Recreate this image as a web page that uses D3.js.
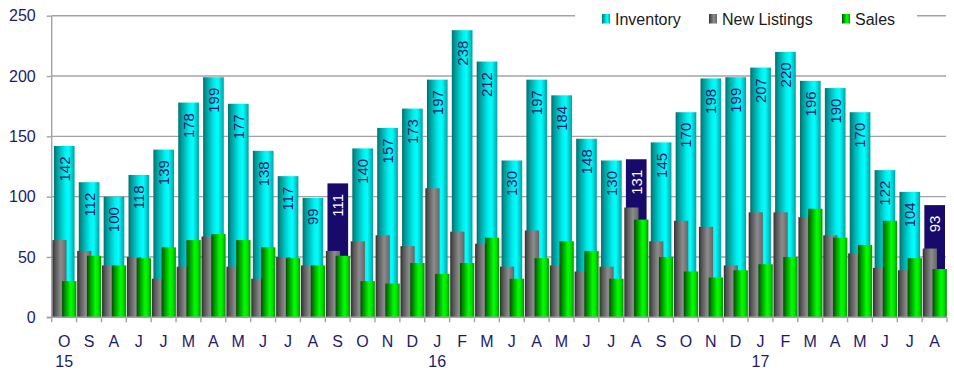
<!DOCTYPE html>
<html><head><meta charset="utf-8">
<script src="https://cdn.jsdelivr.net/npm/d3@7"></script>
<style>body{margin:0;background:#fff}svg{display:block}</style>
</head><body>
<svg id="c" width="954" height="370"></svg>
<script>
const months = ["O","S","A","J","J","M","A","M","J","J","A","S","O","N","D","J","F","M","J","A","M","J","J","A","S","O","N","D","J","F","M","A","M","J","J","A"];
const years = {0:"15",15:"16",28:"17"};
const inventory = [142,112,100,118,139,178,199,177,138,117,99,111,140,157,173,197,238,212,130,197,184,148,130,131,145,170,198,199,207,220,196,190,170,122,104,93];
const newListings = [64,55,43,50,32,42,67,42,32,50,43,55,63,68,59,107,71,61,42,72,43,38,42,91,63,80,75,43,87,87,83,68,53,41,39,57];
const sales = [30,51,43,49,58,64,69,64,58,49,43,51,30,28,45,36,45,66,32,49,63,55,32,81,50,38,33,39,44,50,90,66,60,80,49,40];
const highlighted = [11,23,35];
const yTicks = [0,50,100,150,200,250];
const seriesNames = ["Inventory","New Listings","Sales"];

const svg = d3.select("#c");
const m = {l:51.7, r:947, t:15.7, b:317.3};
const x = d3.scaleBand().domain(d3.range(months.length)).range([m.l, m.r]).padding(0);
const y = d3.scaleLinear().domain([0,250]).range([m.b, m.t]);
const bw = x.bandwidth();

const defs = svg.append("defs");
function grad(id, stops){
  const g = defs.append("linearGradient").attr("id", id).attr("x1","0").attr("x2","1").attr("y1","0").attr("y2","0");
  stops.forEach(s => g.append("stop").attr("offset", s[0]).attr("stop-color", s[1]));
}
grad("gCyan", [[0,"#007070"],[0.15,"#009a9a"],[0.55,"#00f0f0"],[0.72,"#00ffff"],[1,"#00a0a0"]]);
grad("gGrey", [[0,"#303030"],[0.2,"#555"],[0.6,"#8c8c8c"],[1,"#666"]]);
grad("gGreen", [[0,"#004f00"],[0.2,"#009000"],[0.6,"#00ff00"],[0.8,"#00e000"],[1,"#009000"]]);

const gridC = "#a3a3a3";
const txtC = "#1e1a6b";
const font = "'Liberation Sans', Arial, sans-serif";

// gridlines
svg.append("g").selectAll("line").data(yTicks.filter(d=>d>0)).join("line")
  .attr("x1", m.l).attr("x2", 946).attr("y1", d=>y(d)).attr("y2", d=>y(d))
  .attr("stroke", gridC).attr("stroke-width", 1.4);

// inventory bars
svg.append("g").selectAll("rect").data(inventory).join("rect")
  .attr("x", (d,i)=>x(i)+2.2).attr("width", bw-4.2)
  .attr("y", d=>y(d)).attr("height", d=>y(0)-y(d))
  .attr("fill", (d,i)=> highlighted.includes(i) ? "#180a6a" : "url(#gCyan)");

// new listings
svg.append("g").selectAll("rect").data(newListings).join("rect")
  .attr("x", (d,i)=>x(i)+0.6).attr("width", 14.2)
  .attr("y", d=>y(d)).attr("height", d=>y(0)-y(d))
  .attr("fill", "url(#gGrey)");

// sales
svg.append("g").selectAll("rect").data(sales).join("rect")
  .attr("x", (d,i)=>x(i)+10.4).attr("width", 14.3)
  .attr("y", d=>y(d)).attr("height", d=>y(0)-y(d))
  .attr("fill", "url(#gGreen)");

// value labels
svg.append("g").selectAll("text").data(inventory).join("text")
  .attr("transform", (d,i)=>`translate(${x(i)+2.2+(bw-4.2)/2},${y(d)+10.5}) rotate(-90)`)
  .attr("text-anchor","end").attr("dy","0.36em")
  .attr("font-family", font).attr("font-size", 15)
  .attr("fill", (d,i)=> highlighted.includes(i) ? "#ffffff" : txtC)
  .text(d=>d);

// axes
const yAxis = d3.axisLeft(y).tickValues(yTicks).tickSize(5).tickPadding(11);
const ya = svg.append("g").attr("transform", `translate(${m.l},0)`).call(yAxis);
ya.select(".domain").attr("stroke", gridC).attr("stroke-width", 1.4).attr("d", `M-5,${m.b}H0V${m.t}`);
ya.selectAll(".tick line").attr("stroke", gridC).attr("stroke-width", 1.4);
ya.selectAll(".tick text").attr("font-family", font).attr("font-size", 16).attr("fill", txtC);

const xa = svg.append("g");
xa.append("line").attr("x1", m.l).attr("x2", m.r).attr("y1", m.b).attr("y2", m.b).attr("stroke", gridC).attr("stroke-width", 1.4);
xa.selectAll("line.t").data(d3.range(months.length+1)).join("line").attr("class","t")
  .attr("x1", i=> i<months.length ? x(i) : m.r).attr("x2", i=> i<months.length ? x(i) : m.r)
  .attr("y1", m.b).attr("y2", m.b+5).attr("stroke", gridC).attr("stroke-width", 1.4);
xa.selectAll("text.m").data(months).join("text").attr("class","m")
  .attr("x", (d,i)=>x(i)+bw/2).attr("y", 347)
  .attr("text-anchor","middle").attr("font-family", font).attr("font-size", 16).attr("fill", txtC)
  .text(d=>d);
xa.selectAll("text.yr").data(Object.entries(years)).join("text").attr("class","yr")
  .attr("x", d=>x(+d[0])+bw/2).attr("y", 367)
  .attr("text-anchor","middle").attr("font-family", font).attr("font-size", 16).attr("fill", txtC)
  .text(d=>d[1]);

// legend
const lg = svg.append("g");
lg.append("rect").attr("x", 575).attr("y", 4).attr("width", 342).attr("height", 26).attr("fill", "#fff");
const lx = [602, 709, 842];
const lf = ["url(#gCyan)","url(#gGrey)","url(#gGreen)"];
seriesNames.forEach((n,i)=>{
  lg.append("rect").attr("x", lx[i]).attr("y", 14).attr("width", 8).attr("height", 9.5).attr("fill", lf[i]);
  lg.append("text").attr("x", lx[i]+13).attr("y", 25).attr("font-family", font).attr("font-size", 16)
    .attr("fill", "#1a1a1a").text(n);
});
</script>
</body></html>
